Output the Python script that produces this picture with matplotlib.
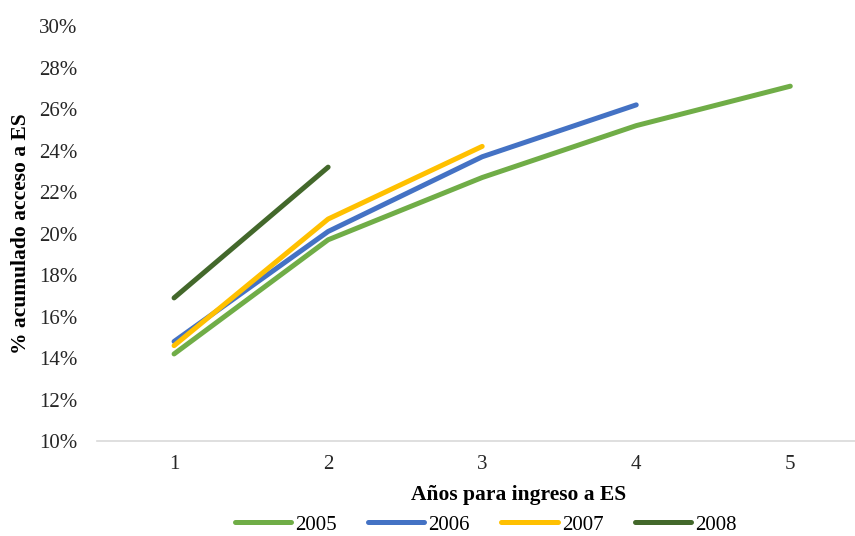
import matplotlib
matplotlib.use('Agg')
import matplotlib.pyplot as plt
from matplotlib.ticker import PercentFormatter

plt.rcParams['font.family'] = ['Liberation Serif', 'DejaVu Serif']

# years since entry and cumulative access (%) per cohort
anios = [1, 2, 3, 4, 5]
cohortes = ['2005', '2006', '2007', '2008']
acceso_2005 = [14.2, 19.7, 22.7, 25.2, 27.1]
acceso_2006 = [14.8, 20.1, 23.7, 26.2]
acceso_2007 = [14.6, 20.7, 24.2]
acceso_2008 = [16.9, 23.2]
series = [acceso_2005, acceso_2006, acceso_2007, acceso_2008]
colores = ['#70AD47', '#4472C4', '#FFC000', '#43682B']

fig = plt.figure(figsize=(8.55, 5.36), dpi=100)
ax = fig.add_axes([0.1135, 0.177, 0.8865, 0.7745])

for nombre, vals, c in zip(cohortes, series, colores):
    ax.plot(anios[:len(vals)], vals, color=c, lw=3.6, label=nombre,
            solid_capstyle='round', solid_joinstyle='round')

ax.set_ylim(10, 30)
ax.set_yticks(range(10, 31, 2))
ax.yaxis.set_major_formatter(PercentFormatter(decimals=0))
ax.set_xlim(0.5, 5.42)
ax.set_xticks(anios)

for s in ['top', 'right', 'left']:
    ax.spines[s].set_visible(False)
ax.spines['bottom'].set_color('#D9D9D9')
ax.spines['bottom'].set_linewidth(1.2)
ax.tick_params(length=0, labelsize=15, colors='#262626')
ax.tick_params(axis='x', pad=10)
ax.tick_params(axis='y', pad=14)

ax.set_xlabel('Años para ingreso a ES', fontsize=15.5, fontweight='bold')
ax.xaxis.set_label_coords(0.556, -0.105)
ax.set_ylabel('% acumulado acceso a ES', fontsize=15.5, fontweight='bold', labelpad=6)

handles, labels = ax.get_legend_handles_labels()
fig.legend(handles, labels, loc='center', bbox_to_anchor=(0.568, 0.021), ncol=4,
           frameon=False, fontsize=15, handlelength=2.7, handletextpad=0.2,
           columnspacing=1.5, borderpad=0)

fig.savefig('out.png', dpi=100)
